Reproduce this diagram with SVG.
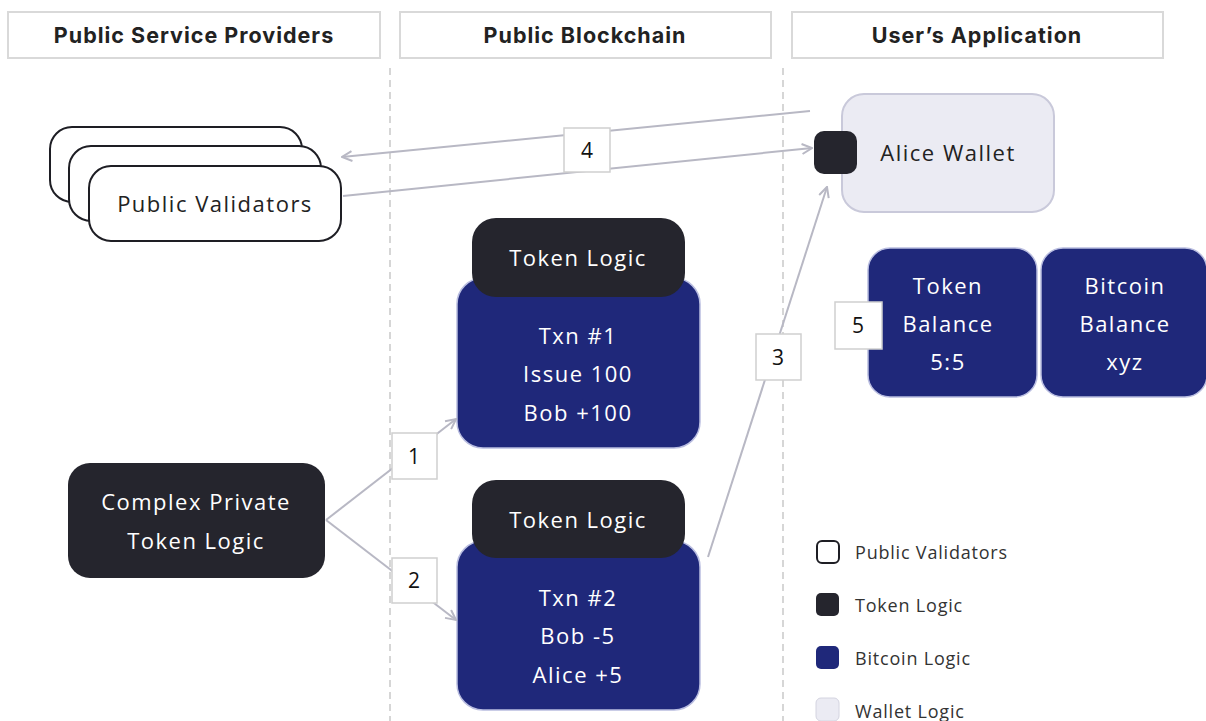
<svg xmlns="http://www.w3.org/2000/svg" width="1206" height="721" viewBox="0 0 1206 721">
<defs>
<style>
.hdr{fill:#fff;stroke:#d9d9d9;stroke-width:2}
.hdrt{font-family:Inter,"Liberation Sans",sans-serif;font-weight:700;font-size:21.5px;letter-spacing:1px;fill:#222;text-anchor:middle;dominant-baseline:central}
.lane{stroke:#c9c9c9;stroke-width:1.5;stroke-dasharray:7 5;fill:none}
.pv{fill:#fff;stroke:#1e1e24;stroke-width:2}
.dark{fill:#25252d}
.blue{fill:#1f287a;stroke:#b9bde0;stroke-width:1.5}
.wallet{fill:#ebebf3;stroke:#c9c9da;stroke-width:2}
.t{font-family:"Open Sans","Noto Sans",sans-serif;font-size:22px;letter-spacing:1.5px;text-anchor:middle;dominant-baseline:central}
.w{fill:#fff}
.k{fill:#222}
.conn{stroke:#b8b8c4;stroke-width:2;fill:none}
.lbl{fill:#fff;stroke:#cfcfcf;stroke-width:1.5}
.lblt{font-family:"Open Sans","Noto Sans",sans-serif;font-size:21px;fill:#111;text-anchor:middle;dominant-baseline:central}
.lg{font-family:"Open Sans","Noto Sans",sans-serif;font-size:18px;letter-spacing:0.8px;fill:#333;dominant-baseline:central}
</style>
<marker id="arr" viewBox="0 0 12 12" refX="11" refY="6" markerWidth="12" markerHeight="12" markerUnits="userSpaceOnUse" orient="auto">
<path d="M1,1 L11,6 L1,11" fill="none" stroke="#b8b8c4" stroke-width="2"/>
</marker>
</defs>
<rect width="1206" height="721" fill="#fff"/>

<g id="headers">
<rect class="hdr" x="8" y="12" width="372" height="46"/>
<text class="hdrt" x="194" y="35">Public Service Providers</text>
<rect class="hdr" x="400" y="12" width="371" height="46"/>
<text class="hdrt" x="585" y="35">Public Blockchain</text>
<rect class="hdr" x="792" y="12" width="371" height="46"/>
<text class="hdrt" x="977" y="35">User’s Application</text>
</g>

<g id="lanes">
<line class="lane" x1="390" y1="68" x2="390" y2="721"/>
<line class="lane" x1="783" y1="68" x2="783" y2="721"/>
</g>

<g id="public-validators">
<rect class="pv" x="50" y="127" width="252" height="75" rx="22"/>
<rect class="pv" x="69" y="146" width="252" height="75" rx="22"/>
<rect class="pv" x="89" y="166" width="252" height="75" rx="22"/>
<text class="t k" x="215" y="203">Public Validators</text>
</g>

<g id="alice-wallet">
<rect class="wallet" x="842" y="94" width="212" height="118" rx="22"/>
<text class="t k" x="948" y="152">Alice Wallet</text>
<rect class="dark" x="814" y="131" width="43" height="43" rx="10"/>
</g>

<g id="complex-private">
<rect class="dark" x="68" y="463" width="257" height="115" rx="22"/>
<text class="t w" x="196" y="501">Complex Private</text>
<text class="t w" x="196" y="540">Token Logic</text>
</g>

<g id="txn1">
<rect class="blue" x="457" y="278" width="243" height="170" rx="26"/>
<rect class="dark" x="472" y="218" width="213" height="79" rx="24"/>
<text class="t w" x="578" y="257">Token Logic</text>
<text class="t w" x="578" y="335">Txn #1</text>
<text class="t w" x="578" y="373">Issue 100</text>
<text class="t w" x="578" y="412">Bob +100</text>
</g>

<g id="txn2">
<rect class="blue" x="457" y="541" width="243" height="169" rx="26"/>
<rect class="dark" x="472" y="480" width="213" height="78" rx="24"/>
<text class="t w" x="578" y="519">Token Logic</text>
<text class="t w" x="578" y="597">Txn #2</text>
<text class="t w" x="578" y="635">Bob -5</text>
<text class="t w" x="578" y="674">Alice +5</text>
</g>

<g id="token-balance">
<rect class="blue" x="868" y="248" width="169" height="149" rx="22"/>
<text class="t w" x="948" y="285">Token</text>
<text class="t w" x="948" y="323">Balance</text>
<text class="t w" x="948" y="361">5:5</text>
</g>

<g id="bitcoin-balance">
<rect class="blue" x="1041" y="248" width="166" height="149" rx="22"/>
<text class="t w" x="1125" y="285">Bitcoin</text>
<text class="t w" x="1125" y="323">Balance</text>
<text class="t w" x="1125" y="361">xyz</text>
</g>

<g id="connectors">
<line class="conn" x1="810" y1="111" x2="342" y2="157" marker-end="url(#arr)"/>
<line class="conn" x1="343" y1="196" x2="812" y2="148" marker-end="url(#arr)"/>
<line class="conn" x1="326" y1="520" x2="456" y2="419" marker-end="url(#arr)"/>
<line class="conn" x1="326" y1="520" x2="456" y2="620" marker-end="url(#arr)"/>
<line class="conn" x1="708" y1="557" x2="827" y2="187" marker-end="url(#arr)"/>
</g>

<g id="labels">
<rect class="lbl" x="564" y="128" width="46" height="44"/>
<text class="lblt" x="587" y="150">4</text>
<rect class="lbl" x="392" y="433" width="45" height="46"/>
<text class="lblt" x="414" y="456">1</text>
<rect class="lbl" x="392" y="558" width="45" height="45"/>
<text class="lblt" x="414" y="580">2</text>
<rect class="lbl" x="756" y="334" width="45" height="46"/>
<text class="lblt" x="778" y="357">3</text>
<rect class="lbl" x="835" y="302" width="47" height="47"/>
<text class="lblt" x="858" y="325">5</text>
</g>

<g id="legend">
<rect x="817" y="541" width="22" height="22" rx="5" fill="#fff" stroke="#1e1e24" stroke-width="2"/>
<text class="lg" x="855" y="552">Public Validators</text>
<rect x="816" y="593" width="23" height="23" rx="5" fill="#25252d"/>
<text class="lg" x="855" y="605">Token Logic</text>
<rect x="816" y="646" width="23" height="23" rx="5" fill="#1f287a"/>
<text class="lg" x="855" y="658">Bitcoin Logic</text>
<rect x="816" y="698" width="23" height="23" rx="5" fill="#ebebf3" stroke="#d4d4e0" stroke-width="1"/>
<text class="lg" x="855" y="711">Wallet Logic</text>
</g>
</svg>
